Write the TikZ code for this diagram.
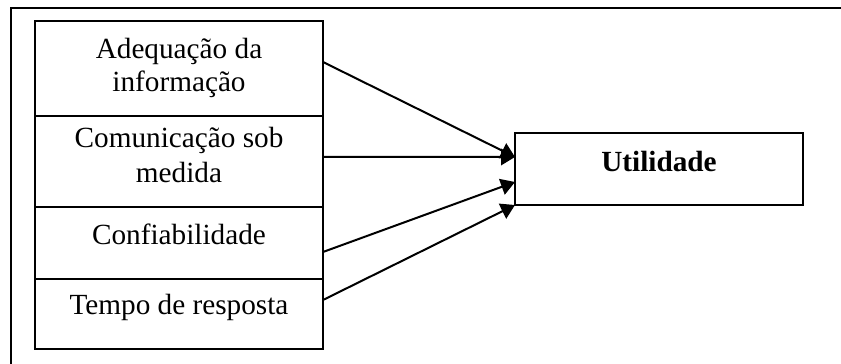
\documentclass[tikz,border=0pt]{standalone}
\usepackage{fontspec}
\setmainfont{Liberation Serif}
\usetikzlibrary{arrows.meta}
\begin{document}
\begin{tikzpicture}[x=0.4pt,y=-0.4pt,
  box/.style={draw=black,line width=0.8pt,rectangle,inner sep=0pt,outer sep=0pt,minimum width=115.2pt,anchor=north west},
  txt/.style={anchor=base,inner sep=0pt,font=\fontsize{11.7pt}{13.2pt}\selectfont},
  conn/.style={line width=0.8pt,-{Triangle[length=5.6pt,width=6.6pt]}}]
\useasboundingbox (0,0) rectangle (841,364);
\clip (0,0) rectangle (841,364);
\fill[white] (0,0) rectangle (841,364);
\draw[line width=0.8pt] (11,380) -- (11,8) -- (860,8);
% input boxes
\node[box,minimum height=38pt] (b1) at (35,21) {};
\node[box,minimum height=36.4pt] (b2) at (35,116) {};
\node[box,minimum height=28.8pt] (b3) at (35,207) {};
\node[box,minimum height=28pt] (b4) at (35,279) {};
\node[box,minimum height=28.8pt] (u) at (515,133) {};
% texts
\node[txt] (t1a) at (179,59) {Adequação da};
\node[txt] (t1b) at (179,92) {informação};
\node[txt] (t2a) at (179,148) {Comunicação sob};
\node[txt] (t2b) at (179,183) {medida};
\node[txt] (t3) at (179,245) {Confiabilidade};
\node[txt] (t4) at (179,315) {Tempo de resposta};
\node[txt,font=\fontsize{11.7pt}{13.2pt}\selectfont\bfseries] (tu) at (659,172) {Utilidade};
% connectors
\draw[conn] ([yshift=2.6pt]b1.east) -- ([yshift=4.8pt]u.west);
\draw[conn] ([yshift=1.8pt]b2.east) -- ([yshift=4.8pt]u.west);
\draw[conn] ([yshift=-3.6pt]b3.east) -- ([yshift=-5.2pt]u.west);
\draw[conn] ([yshift=5.6pt]b4.east) -- (u.south west);
\end{tikzpicture}
\end{document}
